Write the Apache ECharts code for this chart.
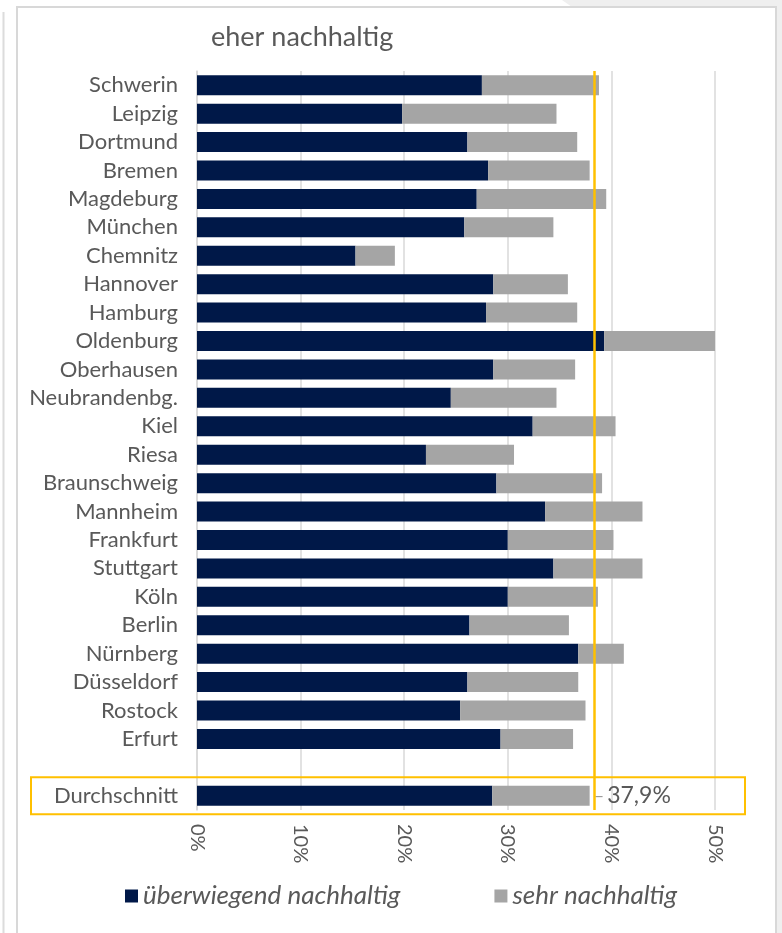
<!DOCTYPE html>
<html>
<head>
<meta charset="utf-8">
<style>
  html, body { margin: 0; padding: 0; background: #ffffff; }
  #chart { width: 782px; height: 933px; }
</style>
<script src="https://cdn.jsdelivr.net/npm/echarts@6/dist/echarts.min.js"></script>
</head>
<body>
<div id="chart"></div>
<script>
// Cities, top to bottom; the empty entry leaves a gap before the average row
const categories = [
  'Schwerin', 'Leipzig', 'Dortmund', 'Bremen', 'Magdeburg', 'München', 'Chemnitz',
  'Hannover', 'Hamburg', 'Oldenburg', 'Oberhausen', 'Neubrandenbg.', 'Kiel', 'Riesa',
  'Braunschweig', 'Mannheim', 'Frankfurt', 'Stuttgart', 'Köln', 'Berlin', 'Nürnberg',
  'Düsseldorf', 'Rostock', 'Erfurt', '', 'Durchschnitt'
];

// Share (%) "überwiegend nachhaltig"
const ueberwiegend = [
  27.5, 19.8, 26.1, 28.1, 27.0, 25.8, 15.3,
  28.6, 27.9, 39.3, 28.6, 24.5, 32.4, 22.1,
  28.9, 33.6, 30.0, 34.4, 30.0, 26.3, 36.8,
  26.1, 25.4, 29.3, null, 28.5
];

// Share (%) "sehr nachhaltig"
const sehr = [
  11.3, 14.9, 10.6, 9.8, 12.5, 8.6, 3.8,
  7.2, 8.8, 10.7, 7.9, 10.2, 8.0, 8.5,
  10.2, 9.4, 10.2, 8.6, 8.7, 9.6, 4.4,
  10.7, 12.1, 7.0, null, 9.4
];

// Reference line for the average (%)
const averageLine = 38.3;
const averageCategory = 'Durchschnitt';

// Axis ticks (%)
const xTicks = { min: 0, max: 50, interval: 10 };

const textColor = '#595959';
const navy = '#001848';
const grey = '#a5a5a5';
const yellow = '#ffc000';
const fontFamily = 'Lato, "Open Sans", sans-serif';

const avgIndex = categories.indexOf(averageCategory);

function formatPercent(v) {
  return v.toFixed(1).replace('.', ',') + '%';
}

const chart = echarts.init(document.getElementById('chart'), null, { renderer: 'canvas' });

const option = {
  animation: false,
  backgroundColor: '#ffffff',
  textStyle: { fontFamily: fontFamily },
  title: {
    text: 'eher nachhaltig',
    left: 206,
    top: 19,
    textStyle: { fontFamily: fontFamily, fontSize: 27, fontWeight: 'normal', color: textColor }
  },
  legend: {
    left: 120,
    top: 878,
    itemWidth: 13,
    itemHeight: 13,
    itemGap: 94,
    icon: 'rect',
    textStyle: { fontFamily: fontFamily, fontSize: 26, fontStyle: 'italic', color: textColor },
    data: ['überwiegend nachhaltig', 'sehr nachhaltig']
  },
  grid: { left: 197, right: 67, top: 71, height: 739, containLabel: false },
  xAxis: {
    type: 'value',
    min: xTicks.min,
    max: xTicks.max,
    interval: xTicks.interval,
    axisLine: { show: false },
    axisTick: { show: false },
    splitLine: { lineStyle: { color: '#d9d9d9', width: 1.5 } },
    axisLabel: {
      rotate: -90,
      margin: 14,
      fontFamily: fontFamily,
      fontSize: 20,
      color: textColor,
      formatter: '{value}%'
    }
  },
  yAxis: {
    type: 'category',
    inverse: true,
    data: categories,
    axisTick: { show: false },
    axisLine: { show: true, lineStyle: { color: '#d9d9d9', width: 1.5 } },
    axisLabel: {
      interval: 0,
      hideOverlap: false,
      margin: 19,
      fontFamily: fontFamily,
      fontSize: 22,
      lineHeight: 24,
      color: textColor
    }
  },
  series: [
    {
      name: 'überwiegend nachhaltig',
      type: 'bar',
      stack: 'total',
      barWidth: 20,
      itemStyle: { color: navy },
      data: ueberwiegend,
      markLine: {
        silent: true,
        symbol: 'none',
        label: { show: false },
        lineStyle: { color: yellow, width: 2.5, type: 'solid' },
        data: [{ xAxis: averageLine }]
      }
    },
    {
      name: 'sehr nachhaltig',
      type: 'bar',
      stack: 'total',
      barWidth: 20,
      itemStyle: { color: grey },
      data: sehr.map((v, i) => {
        if (i !== avgIndex) return v;
        return {
          value: v,
          label: {
            show: true,
            position: 'right',
            distance: 4,
            formatter: '{d|–} {v|' + formatPercent(ueberwiegend[i] + sehr[i]) + '}',
            rich: {
              d: { fontFamily: fontFamily, fontSize: 18, color: '#9a9a9a' },
              v: { fontFamily: fontFamily, fontSize: 23, color: textColor }
            }
          }
        };
      })
    }
  ]
};

chart.setOption(option);

// Page frame and the highlight box around the average row
const rowY = chart.convertToPixel({ yAxisIndex: 0 }, averageCategory);
chart.setOption({
  graphic: [
    {
      type: 'polygon', z: -10, silent: true,
      shape: { points: [[562, 0], [782, 0], [782, 933], [776, 933], [776, 7], [572, 7]] },
      style: { fill: '#efefef' }
    },
    {
      type: 'line', z: -10, silent: true,
      shape: { x1: 3.5, y1: 12, x2: 3.5, y2: 933 },
      style: { stroke: '#dcdcdc', lineWidth: 2 }
    },
    {
      type: 'rect', z: -9, silent: true,
      shape: { x: 17, y: 7, width: 759, height: 940 },
      style: { fill: '#ffffff', stroke: '#d8d8d8', lineWidth: 2 }
    },
    {
      type: 'rect', z: 10, silent: true,
      shape: { x: 31, y: rowY - 18.5, width: 714, height: 37 },
      style: { fill: 'none', stroke: yellow, lineWidth: 2 }
    }
  ]
});
</script>
</body>
</html>
